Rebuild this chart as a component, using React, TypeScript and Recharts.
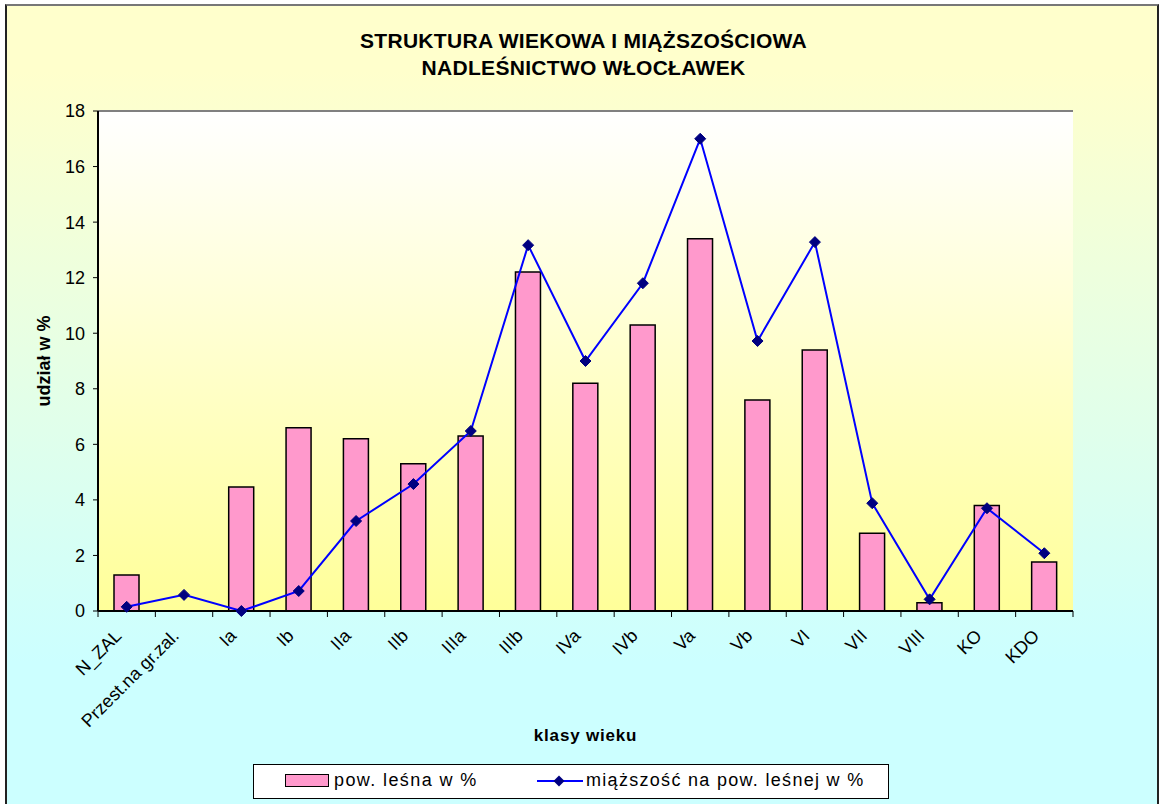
import React from "react";
import {
  ComposedChart,
  Bar,
  Line,
  XAxis,
  YAxis,
  CartesianGrid,
  ReferenceLine,
  Legend,
} from "recharts";

const classes = [
  "N_ZAL", "Przest.na gr.zal.", "Ia", "Ib", "IIa", "IIb", "IIIa", "IIIb",
  "IVa", "IVb", "Va", "Vb", "VI", "VII", "VIII", "KO", "KDO",
];
const area = [1.3, 0, 4.46, 6.6, 6.2, 5.3, 6.3, 12.2, 8.2, 10.3, 13.4, 7.6, 9.4, 2.8, 0.3, 3.8, 1.76];
const volume = [0.15, 0.58, 0, 0.72, 3.24, 4.57, 6.48, 13.17, 9.0, 11.8, 17.0, 9.72, 13.28, 3.88, 0.42, 3.7, 2.08];
const yTicks = [0, 2, 4, 6, 8, 10, 12, 14, 16, 18];

const AREA_NAME = "pow. leśna w %";
const VOL_NAME = "miąższość na pow. leśnej w %";

const data = classes.map((c, i) => ({ name: c, area: area[i], volume: volume[i] }));

const W = 1159;
const H = 804;
const FONT = "Arial, 'Liberation Sans', sans-serif";
const PLOT_LEFT = 98;
const PLOT_RIGHT = 1073;
const BAND = (PLOT_RIGHT - PLOT_LEFT) / classes.length;

function XTick(props: any) {
  const { x, y, payload, index } = props;
  const last = index === classes.length - 1;
  const tx = x - 4;
  const ty = y + 26;
  return (
    <g>
      <line x1={x - BAND / 2} y1={y} x2={x - BAND / 2} y2={y + 6} stroke="#000" />
      {last && <line x1={x + BAND / 2} y1={y} x2={x + BAND / 2} y2={y + 6} stroke="#000" />}
      <text
        x={tx}
        y={ty}
        textAnchor="end"
        transform={`rotate(-45 ${tx} ${ty})`}
        fontSize={18}
        fontFamily={FONT}
        fill="#000"
      >
        {payload.value}
      </text>
    </g>
  );
}

function Diamond(props: any) {
  const { cx, cy } = props;
  if (cx == null || cy == null) return null;
  const r = 5.5;
  return (
    <path
      d={`M${cx},${cy - r} L${cx + r},${cy} L${cx},${cy + r} L${cx - r},${cy} Z`}
      fill="#000080"
      stroke="#000080"
    />
  );
}

function LegendBox() {
  return (
    <div
      style={{
        position: "relative",
        width: 634,
        height: 33,
        background: "#fff",
        border: "1px solid #000",
        fontFamily: FONT,
        fontSize: 18,
        color: "#000",
      }}
    >
      <div
        style={{
          position: "absolute",
          left: 31,
          top: 9,
          width: 42,
          height: 11,
          background: "#FF99CC",
          border: "1.5px solid #000",
        }}
      />
      <span style={{ position: "absolute", left: 80, top: 5, letterSpacing: 1.4 }}>{AREA_NAME}</span>
      <svg style={{ position: "absolute", left: 283, top: 6 }} width={48} height={20}>
        <line x1={0} y1={10} x2={46} y2={10} stroke="#0000FF" strokeWidth={2} />
        <path d="M22,4.5 L27.5,10 L22,15.5 L16.5,10 Z" fill="#000080" />
      </svg>
      <span style={{ position: "absolute", left: 332, top: 5, letterSpacing: 1.3 }}>{VOL_NAME}</span>
    </div>
  );
}

export default function App() {
  return (
    <div style={{ position: "absolute", left: 0, top: 0, width: W, height: H, overflow: "hidden" }}>
      <div
        style={{
          position: "absolute",
          left: 5,
          top: 4,
          width: 1150,
          height: 820,
          borderLeft: "2px solid #222",
          borderTop: "2px solid #777",
          borderRight: "2px solid #222",
          background: "linear-gradient(to bottom, #FFFFCC 0%, #FFFFCC 8%, #CCFFFF 80%, #CCFFFF 100%)",
        }}
      />
      <div
        style={{
          position: "absolute",
          left: 0,
          width: W,
          top: 27,
          textAlign: "center",
          paddingLeft: 8,
          boxSizing: "border-box",
          fontFamily: FONT,
          fontWeight: "bold",
          fontSize: 21,
          letterSpacing: 0.3,
          lineHeight: "27px",
          color: "#000",
        }}
      >
        STRUKTURA WIEKOWA I MIĄŻSZOŚCIOWA
        <br />
        NADLEŚNICTWO WŁOCŁAWEK
      </div>
      <div style={{ position: "absolute", left: 0, top: 0 }}>
        <ComposedChart
          width={W}
          height={H}
          data={data}
          margin={{ top: 111, right: W - PLOT_RIGHT, bottom: 63, left: 8 }}
          barCategoryGap={0}
        >
          <defs>
            <linearGradient id="plotBg" x1="0" y1="0" x2="0" y2="1">
              <stop offset="0%" stopColor="#FFFFFF" />
              <stop offset="100%" stopColor="#FFFF99" />
            </linearGradient>
          </defs>
          <CartesianGrid horizontal={false} vertical={false} fill="url(#plotBg)" />
          <XAxis
            dataKey="name"
            interval={0}
            height={130}
            tickSize={0}
            tickMargin={0}
            tickLine={false}
            axisLine={{ stroke: "#000", strokeWidth: 2 }}
            tick={<XTick />}
            label={{
              value: "klasy wieku",
              position: "insideBottom",
              offset: 0,
              style: { fontFamily: FONT, fontWeight: "bold", fontSize: 17, fill: "#000", letterSpacing: 0.8 },
            }}
          />
          <YAxis
            domain={[0, 18]}
            ticks={yTicks}
            width={90}
            tickSize={5}
            tickMargin={8}
            axisLine={{ stroke: "#000", strokeWidth: 2 }}
            tickLine={{ stroke: "#000" }}
            tick={{ fontSize: 18, fontFamily: FONT, fill: "#000" }}
            label={{
              value: "udział w %",
              angle: -90,
              position: "insideLeft",
              offset: 36,
              style: { textAnchor: "middle", fontFamily: FONT, fontWeight: "bold", fontSize: 18, fill: "#000" },
            }}
          />
          <YAxis
            yAxisId="r"
            orientation="right"
            domain={[0, 18]}
            width={0}
            tick={false}
            tickLine={false}
            axisLine={{ stroke: "#808080", strokeWidth: 2 }}
          />
          <ReferenceLine y={18} stroke="#808080" strokeWidth={2} />
          <Bar
            dataKey="area"
            name={AREA_NAME}
            barSize={25}
            fill="#FF99CC"
            stroke="#000"
            strokeWidth={1.5}
            isAnimationActive={false}
          />
          <Line
            dataKey="volume"
            name={VOL_NAME}
            type="linear"
            stroke="#0000FF"
            strokeWidth={2}
            dot={<Diamond />}
            activeDot={false}
            isAnimationActive={false}
          />
          <Legend
            layout="vertical"
            align="center"
            verticalAlign="middle"
            wrapperStyle={{ left: 253, top: 764, width: 636, height: 35 }}
            content={() => <LegendBox />}
          />
        </ComposedChart>
      </div>
    </div>
  );
}
